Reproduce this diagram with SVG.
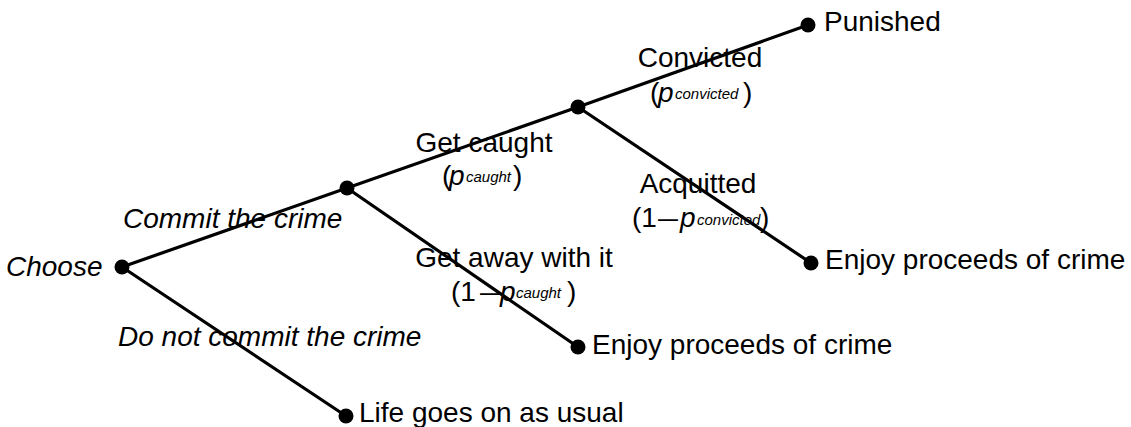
<svg xmlns="http://www.w3.org/2000/svg" width="1131" height="427" viewBox="0 0 1131 427">
<style>
.e{stroke:#000;stroke-width:3.2;fill:none;stroke-linecap:round}
.n{fill:#000}
text{font-family:"Liberation Sans",Arial,sans-serif;font-size:28px;fill:#000}
.i{font-style:italic}
.s{font-size:15px;font-style:italic}
.m{text-anchor:middle}
</style>
<rect width="1131" height="427" fill="#fff"/>
<g id="connectors">
<line class="e" x1="122" y1="267" x2="347" y2="188"/>
<line class="e" x1="347" y1="188" x2="578" y2="107"/>
<line class="e" x1="578" y1="107" x2="808" y2="25"/>
<line class="e" x1="578" y1="107" x2="811" y2="263"/>
<line class="e" x1="347" y1="188" x2="578" y2="347"/>
<line class="e" x1="122" y1="267" x2="346" y2="416"/>
</g>
<g id="edge-labels">
<text class="i" x="123" y="228">Commit the crime</text>
<text class="i" x="118" y="346">Do not commit the crime</text>
<text class="m" x="484" y="152">Get caught</text>
<text x="442" y="185">(</text><text class="i" x="449" y="185">p</text><text class="s" x="466" y="182">caught</text><text x="513" y="185">)</text>
<text class="m" x="514" y="267">Get away with it</text>
<text x="451" y="301">(1</text><text x="480" y="301" textLength="20" lengthAdjust="spacingAndGlyphs">–</text><text class="i" x="500" y="301">p</text><text class="s" x="516" y="298">caught</text><text x="567" y="301">)</text>
<text class="m" x="700" y="67">Convicted</text>
<text x="650" y="102">(</text><text class="i" x="658" y="102">p</text><text class="s" x="675" y="99">convicted</text><text x="743" y="102">)</text>
<text class="m" x="698" y="193">Acquitted</text>
<text x="632" y="227">(1</text><text x="658" y="227" textLength="20" lengthAdjust="spacingAndGlyphs">–</text><text class="i" x="680" y="227">p</text><text class="s" x="697" y="225">convicted</text><text x="760" y="227">)</text>
</g>
<g id="node-choose"><circle class="n" cx="122" cy="267" r="7.5"/><text class="i" x="6" y="276">Choose</text></g>
<g id="node-commit"><circle class="n" cx="347" cy="188" r="7.5"/></g>
<g id="node-caught"><circle class="n" cx="578" cy="107" r="7.5"/></g>
<g id="node-punished"><circle class="n" cx="808" cy="25" r="7.5"/><text x="824" y="31">Punished</text></g>
<g id="node-acquitted"><circle class="n" cx="811" cy="263" r="7.5"/><text x="825" y="269">Enjoy proceeds of crime</text></g>
<g id="node-getaway"><circle class="n" cx="578" cy="347" r="7.5"/><text x="592" y="354">Enjoy proceeds of crime</text></g>
<g id="node-notcommit"><circle class="n" cx="346" cy="416" r="7.5"/><text x="359" y="422">Life goes on as usual</text></g>
</svg>
